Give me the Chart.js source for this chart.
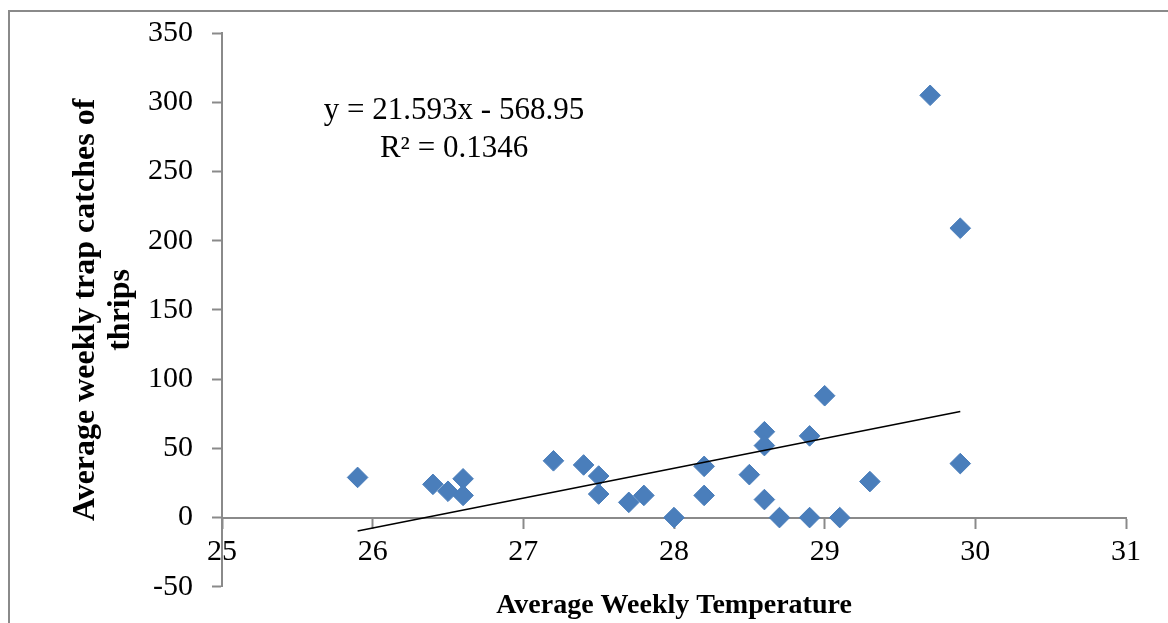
<!DOCTYPE html>
<html>
<head>
<meta charset="utf-8">
<script src="https://cdn.jsdelivr.net/npm/chart.js@4.4.1/dist/chart.umd.min.js"></script>
<style>
  html, body { margin: 0; padding: 0; background: #fff; }
  #wrap { width: 1168px; height: 623px; }
</style>
</head>
<body>
<div id="wrap"><canvas id="chart" width="1168" height="623"></canvas></div>
<script>
// Weekly mean temperature (°C) and mean weekly thrips catch per trap
const temperature = [25.9, 26.4, 26.5, 26.6, 26.6, 27.2, 27.4, 27.5, 27.5, 27.7, 27.8, 28.0, 28.2, 28.2,
                     28.5, 28.6, 28.6, 28.6, 28.7, 28.9, 28.9, 29.0, 29.1, 29.3, 29.7, 29.9, 29.9];
const trapCatches = [29, 24, 19, 28, 16, 41, 38, 30, 17, 11, 16, 0, 37, 16,
                     31, 62, 52, 13, 0, 59, 0, 88, 0, 26, 305, 209, 39];

// Axis ranges
const xRange = [25, 31];
const yRange = [-50, 350];
const xStep = 1;
const yStep = 50;

// Linear trendline fitted to the points
const trendSlope = 21.593;
const trendIntercept = -568.95;
const trendText = ['y = 21.593x - 568.95', 'R\u00B2 = 0.1346'];

const xTitle = 'Average Weekly Temperature';
const yTitle = ['Average weekly trap catches of', 'thrips'];

const SERIF = '"Liberation Serif", "Times New Roman", serif';
const AXIS_GREY = '#8a8a8a';

const points = temperature.map((t, i) => ({ x: t, y: trapCatches[i] }));
const tMin = Math.min(...temperature);
const tMax = Math.max(...temperature);
const trendPoints = [tMin, tMax].map(t => ({ x: t, y: trendSlope * t + trendIntercept }));

// White page with a grey frame along the top and left edges
const framePlugin = {
  id: 'frame',
  beforeDraw(chart) {
    const ctx = chart.ctx;
    ctx.save();
    ctx.fillStyle = '#fff';
    ctx.fillRect(0, 0, chart.width, chart.height);
    ctx.strokeStyle = AXIS_GREY;
    ctx.lineWidth = 2;
    ctx.beginPath();
    ctx.moveTo(9, chart.height + 5);
    ctx.lineTo(9, 11);
    ctx.lineTo(chart.width + 5, 11);
    ctx.stroke();
    ctx.restore();
  }
};

// Trendline equation and R² written in the upper-left of the plot
const equationPlugin = {
  id: 'equation',
  afterDatasetsDraw(chart) {
    const { ctx, scales: { x, y } } = chart;
    const cx = x.getPixelForValue(26.54);
    const cy = y.getPixelForValue(294);
    ctx.save();
    ctx.font = '31px ' + SERIF;
    ctx.fillStyle = '#000';
    ctx.textAlign = 'center';
    ctx.textBaseline = 'middle';
    trendText.forEach((line, i) => ctx.fillText(line, cx, cy + i * 38));
    ctx.restore();
  }
};

new Chart(document.getElementById('chart'), {
  type: 'scatter',
  data: {
    datasets: [
      {
        label: 'Linear trend',
        type: 'line',
        data: trendPoints,
        borderColor: '#000',
        borderWidth: 1.6,
        pointRadius: 0,
        fill: false,
        order: 0
      },
      {
        label: 'Trap catches',
        data: points,
        pointStyle: 'rectRot',
        pointRadius: 10.3,
        backgroundColor: '#4a7ebb',
        borderColor: '#4a7ebb',
        borderWidth: 1,
        order: 1
      }
    ]
  },
  options: {
    responsive: false,
    animation: false,
    devicePixelRatio: 1,
    layout: { padding: { left: 0, top: 33, right: 42, bottom: 0 } },
    plugins: {
      legend: { display: false },
      tooltip: { enabled: false },
      title: {
        display: true,
        text: xTitle,
        position: 'bottom',
        fullSize: false,
        color: '#000',
        font: { family: SERIF, size: 28, weight: 'bold', lineHeight: 1.2 },
        padding: { top: 2.6, bottom: 0 }
      }
    },
    scales: {
      x: {
        type: 'linear',
        position: { y: 0 },
        min: xRange[0],
        max: xRange[1],
        ticks: {
          stepSize: xStep,
          color: '#000',
          font: { family: SERIF, size: 30 },
          maxRotation: 0
        },
        grid: {
          drawOnChartArea: false,
          drawTicks: true,
          // labels sit a little lower than the visible 10px tick mark
          tickLength: 14,
          tickBorderDash: [10, 40],
          tickWidth: 2,
          tickColor: AXIS_GREY
        },
        border: { display: true, color: AXIS_GREY, width: 2 }
      },
      y: {
        type: 'linear',
        min: yRange[0],
        max: yRange[1],
        afterFit(scale) {
          scale.width = 222;
          // the end labels fit inside the layout padding already
          scale.paddingTop = 0;
          scale.paddingBottom = 0;
        },
        ticks: {
          stepSize: yStep,
          color: '#000',
          padding: 19,
          font: { family: SERIF, size: 30 }
        },
        grid: {
          drawOnChartArea: false,
          drawTicks: true,
          tickLength: 10,
          tickWidth: 2,
          tickColor: AXIS_GREY
        },
        border: { display: true, color: AXIS_GREY, width: 2 },
        title: {
          display: true,
          text: yTitle,
          color: '#000',
          font: { family: SERIF, size: 32, weight: 'bold', lineHeight: 1.1 },
          padding: { top: 68, bottom: 0 }
        }
      }
    }
  },
  plugins: [framePlugin, equationPlugin]
});
</script>
</body>
</html>
